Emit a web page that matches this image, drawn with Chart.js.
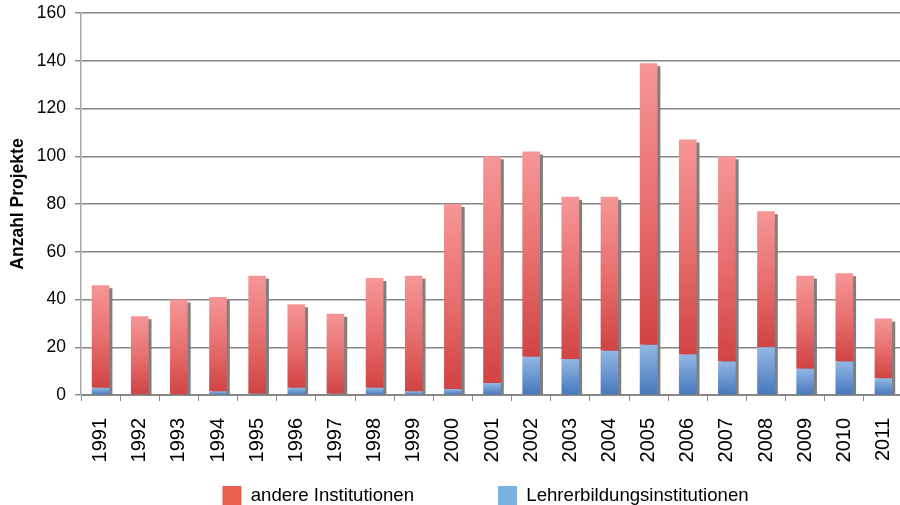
<!DOCTYPE html>
<html>
<head>
<meta charset="utf-8">
<script src="https://cdn.jsdelivr.net/npm/chart.js@4/dist/chart.umd.min.js"></script>
<style>
  html, body { margin: 0; padding: 0; background: #ffffff; overflow: hidden; }
  #wrap { width: 904px; height: 505px; }
</style>
</head>
<body>
<div id="wrap"><canvas id="c" width="904" height="505"></canvas></div>
<script>
// ---- data ----
const years = ['1991','1992','1993','1994','1995','1996','1997','1998','1999','2000',
               '2001','2002','2003','2004','2005','2006','2007','2008','2009','2010','2011'];
const lehrerbildung = [3, 0, 0, 1.5, 0.5, 3, 0.5, 3, 1.5, 2.5,
                       5, 16, 15, 18.5, 21, 17, 14, 20, 11, 14, 7];
const andere = [43, 33, 40, 39.5, 49.5, 35, 33.5, 46, 48.5, 77.5,
                95, 86, 68, 64.5, 118, 90, 86, 57, 39, 37, 25];
const yTicks = [0, 20, 40, 60, 80, 100, 120, 140, 160];
const seriesNames = ['Lehrerbildungsinstitutionen', 'andere Institutionen'];
const axisTitle = 'Anzahl Projekte';

// ---- styles ----
const legendColors = ['#79b2e0', '#e8604c'];
const redStops = ['#f69696', '#e87070', '#d04343'];
const blueStops = ['#93b7e4', '#6c97d0', '#4677bd'];
const FONT = "'Liberation Sans', Arial, sans-serif";

function segGradient(c, lowArr, highArr, stops, fallback) {
  const chart = c.chart;
  const ys = chart.scales && chart.scales.y;
  if (c.type !== 'data' || !ys || !chart.chartArea) return fallback;
  const i = c.dataIndex;
  const low = lowArr ? lowArr[i] : 0;
  const high = low + highArr[i];
  const yb = ys.getPixelForValue(low);
  const yt = ys.getPixelForValue(high);
  if (!isFinite(yb) || !isFinite(yt)) return fallback;
  const g = chart.ctx.createLinearGradient(0, yt, 0, yb === yt ? yb + 1 : yb);
  g.addColorStop(0, stops[0]);
  g.addColorStop(0.5, stops[1]);
  g.addColorStop(1, stops[2]);
  return g;
}

// shadow behind each stacked column
const shadowPlugin = {
  id: 'colShadow',
  beforeDatasetsDraw(chart) {
    const top = chart.getDatasetMeta(1);
    const ys = chart.scales.y;
    const base = ys.getPixelForValue(0);
    const ctx = chart.ctx;
    ctx.save();
    ctx.fillStyle = '#7f7f7f';
    top.data.forEach((el) => {
      const p = el.getProps(['x', 'y', 'width'], true);
      const left = p.x - p.width / 2 + 3;
      const t = p.y + 3;
      if (base - t > 0) ctx.fillRect(left, t, p.width, base - t);
    });
    ctx.restore();
  }
};

// place legend like the reference
const legendPlace = {
  id: 'legendPlace',
  afterLayout(chart) {
    const lg = chart.legend;
    if (!lg) return;
    const pad = lg.options.labels.padding;
    lg.top = 486 - pad;
    lg.bottom = chart.height;
    lg.left += 34;
    lg.right += 34;
  }
};

new Chart(document.getElementById('c'), {
  type: 'bar',
  data: {
    labels: years,
    datasets: [
      {
        label: seriesNames[0],
        data: lehrerbildung,
        backgroundColor: (c) => segGradient(c, null, lehrerbildung, blueStops, legendColors[0]),
        borderWidth: 0
      },
      {
        label: seriesNames[1],
        data: andere,
        backgroundColor: (c) => segGradient(c, lehrerbildung, andere, redStops, legendColors[1]),
        borderWidth: 0
      }
    ]
  },
  options: {
    responsive: false,
    animation: false,
    devicePixelRatio: 1,
    layout: { padding: { left: 0, right: 1, top: 13, bottom: 0 } },
    datasets: { bar: { barPercentage: 0.45, categoryPercentage: 1 } },
    scales: {
      x: {
        stacked: true,
        offset: true,
        grid: { offset: true, drawOnChartArea: false, tickLength: 6, color: '#8a8a8a', lineWidth: 1 },
        border: { color: '#8a8a8a', width: 1 },
        ticks: {
          autoSkip: false, minRotation: 90, maxRotation: 90, padding: 17,
          color: '#000', font: { family: FONT, size: 20 }
        },
        afterFit(s) { s.height = 80; s.paddingLeft = 0; s.paddingRight = 0; }
      },
      y: {
        stacked: true,
        min: 0, max: 160,
        afterBuildTicks(s) { s.ticks = yTicks.map(v => ({ value: v })); },
        grid: { color: '#868686', lineWidth: 1.4, tickLength: 6 },
        border: { color: '#a8a8a8', width: 1.5 },
        ticks: { padding: 9, color: '#000', font: { family: FONT, size: 17.5 } },
        title: {
          display: true, text: axisTitle, color: '#000',
          font: { family: FONT, size: 17.5, weight: 'bold' },
          padding: { top: 8, bottom: 0 }
        },
        afterFit(s) { s.width = 81; s.paddingTop = 0; s.paddingBottom = 0; }
      }
    },
    plugins: {
      tooltip: { enabled: false },
      legend: {
        position: 'bottom',
        reverse: true,
        maxHeight: 30,
        labels: {
          boxWidth: 19, boxHeight: 19, padding: 84,
          color: '#000', font: { family: FONT, size: 18.6 },
          generateLabels(chart) {
            const items = Chart.defaults.plugins.legend.labels.generateLabels(chart);
            items.forEach(it => {
              it.fillStyle = legendColors[it.datasetIndex];
              it.strokeStyle = legendColors[it.datasetIndex];
              it.lineWidth = 0;
            });
            return items;
          }
        }
      }
    }
  },
  plugins: [shadowPlugin, legendPlace]
});
</script>
</body>
</html>
